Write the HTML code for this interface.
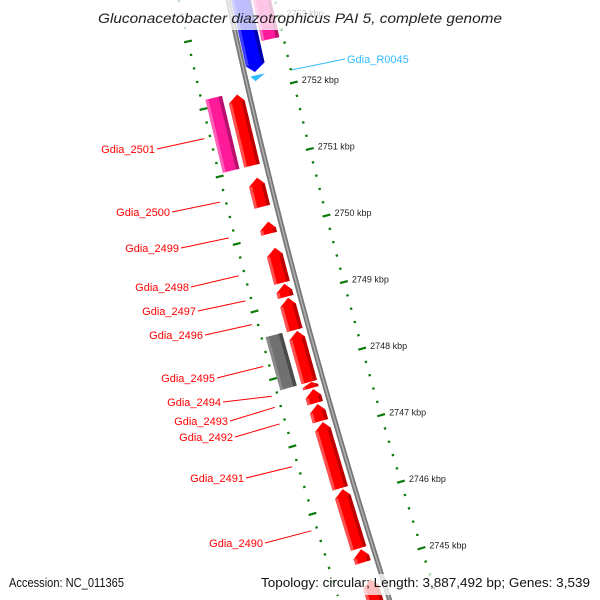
<!DOCTYPE html>
<html><head><meta charset="utf-8"><style>
html,body{margin:0;padding:0;background:#fff;overflow:hidden;width:600px;height:600px;}
svg{display:block;}
</style></head><body>
<svg id="map" width="600" height="600" viewBox="0 0 600 600" xmlns="http://www.w3.org/2000/svg" font-family="'Liberation Sans', 'DejaVu Sans', sans-serif">
<g id="rings"></g>
<path id="backbone" fill="none" stroke="#777" stroke-width="5"></path>
<path id="backbone2" fill="none" stroke="#b0b0b0" stroke-width="1.5"></path>
<g id="features"></g>
<g id="labels"></g>
<rect x="0" y="0" width="600" height="30" fill="#fff" fill-opacity="0.75"></rect>
<rect x="0" y="574" width="600" height="21" fill="#fff" fill-opacity="0.75"></rect>
<text x="300" y="23" text-anchor="middle" font-size="14" font-style="italic" fill="#222" textLength="404" lengthAdjust="spacingAndGlyphs">Gluconacetobacter diazotrophicus PAI 5, complete genome</text>
<text x="9" y="587" font-size="12.5" fill="#111" textLength="115" lengthAdjust="spacingAndGlyphs">Accession: NC_011365</text>
<text x="590" y="587" text-anchor="end" font-size="12.5" fill="#111" textLength="329" lengthAdjust="spacingAndGlyphs">Topology: circular; Length: 3,887,492 bp; Genes: 3,539</text>
</svg>
<script>
// ---- data ----
const featureNames = ["Gdia_2501","Gdia_2501b","Gdia_2500","Gdia_2499","Gdia_2498","Gdia_2497","Gdia_2496","Gdia_2495","Gdia_2495b","Gdia_2494","Gdia_2493","Gdia_2492","Gdia_2491","Gdia_2490","Gdia_2489","Gdia_2488","Gdia_blue","Gdia_pinkF","Gdia_R0045"];
const featureStart = [2752.104,2752.134,2750.866,2750.209,2749.821,2749.284,2749.075,2748.582,2748.612,2747.821,2747.716,2747.493,2747.224,2746.224,2745.328,2744.881,2753.761,2753.91,2752.313];
const featureEnd   = [2751.030,2751.030,2750.418,2750.015,2749.284,2749.075,2748.582,2747.806,2747.806,2747.716,2747.493,2747.224,2746.224,2745.328,2745.119,2744.284,2752.343,2752.761,2752.209];
const featureType  = ["red","pink","red","red","red","red","red","red","gray","red","red","red","red","red","red","red","blue","pinkF","cyan"];
const labelNames   = ["Gdia_2501","Gdia_2500","Gdia_2499","Gdia_2498","Gdia_2497","Gdia_2496","Gdia_2495","Gdia_2494","Gdia_2493","Gdia_2492","Gdia_2491","Gdia_2490","Gdia_R0045"];
const labelFeature = [1,2,3,4,5,6,8,9,10,11,12,13,18];
const labelX = [155,170,179,189,196,203,215,221,228,233,244,263,347];
const labelY = [153,216,252,291,315,339,382,406,425,441,482,547,63];
const tickMin = 2744.2, tickMax = 2753.8, tickStep = 0.2;

// ---- geometry ----
const NS="http://www.w3.org/2000/svg";
function yOf(k){ return 98 + (2752-k)*67; }
function xb(y){ return 228 + 0.218*y + 8.56e-5*y*y; }
function pt(y,o){ const s=0.218+1.712e-4*y, n=Math.sqrt(1+s*s); return [xb(y)+o/n, y - o*s/n]; }
function mk(tag,attrs,parent){ const e=document.createElementNS(NS,tag); for(const k in attrs) e.setAttribute(k,attrs[k]); parent.appendChild(e); return e; }
function poly(pts){ return pts.map(p=>p[0].toFixed(2)+","+p[1].toFixed(2)).join(" "); }

let d="";
for(let y=-20;y<=620;y+=10){ const p=pt(y,0); d+=(y===-20?"M":"L")+p[0].toFixed(2)+" "+p[1].toFixed(2)+" "; }
document.getElementById("backbone").setAttribute("d",d);
document.getElementById("backbone2").setAttribute("d",d);

const rings=document.getElementById("rings");
const nT=Math.round((tickMax-tickMin)/tickStep);
for(let i=0;i<=nT;i++){
  const k=tickMin+i*tickStep; const y=yOf(k);
  const major=Math.abs(k-Math.round(k))<1e-6;
  [[46,-5],[-48,0]].forEach(([o,dy])=>{
    const a=pt(y+dy,o-(major?4:1.2)), b=pt(y+dy,o+(major?4:1.2));
    const l=mk("line",{x1:a[0],y1:a[1],x2:b[0],y2:b[1],stroke:"#0a7a0a","stroke-width":2.2,"stroke-linecap":"butt"},rings);
    
    
  });
  if(major){
    const p=pt(y-5,46);
    const t=mk("text",{x:p[0]+8,y:p[1]+0.5,"font-size":"9",fill:"#222"},rings);
    t.textContent=Math.round(k)+" kbp";
    
    
  }
}

const tracks={red:[-22,-6,"#ff0000","#c00000","#ff5050",-1],pink:[-44,-27,"#ff1a9a","#b8106c","#ff60b8",0],gray:[-44,-27,"#707070","#4a4a4a","#8a8a8a",0],
  blue:[3,22,"#0000ff","#0000aa","#4040ff",1],pinkF:[24,42,"#ff1a9a","#b8106c","#ff60b8",0],cyan:[5,20,"#33bbff","#1a88cc","#66ccff",1]};
const feats=document.getElementById("features");
const fpos=[];
for(let i=0;i<featureNames.length;i++){
  const tr=tracks[featureType[i]];
  const y1=yOf(featureStart[i])+0.7, y2=yOf(featureEnd[i])-0.7;
  const [oi,oo]=[tr[0],tr[1]]; const dir=tr[5];
  const g=mk("g",{},feats);
  
  
  let shape;
  const h=Math.min(7,(y2-y1)*0.6), mid=(oi+oo)/2;
  if(featureType[i]==="cyan"){
    shape=[pt(y1,oi),pt(y1,oo),pt(y2,oi+4)];
  } else if(dir===-1){
    shape=[pt(y1,mid+2),pt(y1+h,oo),pt(y2,oo),pt(y2,oi),pt(y1+h,oi)];
  } else if(dir===1){
    shape=[pt(y1,oi),pt(y1,oo),pt(y2-h,oo),pt(y2,mid-2),pt(y2-h,oi)];
  } else {
    shape=[pt(y1,oi),pt(y1,oo),pt(y2,oo),pt(y2,oi)];
  }
  mk("polygon",{points:poly(shape),fill:tr[2]},g);
  const a=Math.min(oi,oo), b=Math.max(oi,oo);
  const ys=dir===-1?y1+h:y1, ye=dir===1?y2-h:y2;
  if(featureType[i]!=="cyan"){
    mk("polygon",{points:poly([pt(ys,b-3.5),pt(ys,b),pt(ye,b),pt(ye,b-3.5)]),fill:tr[3]},g);
    mk("polygon",{points:poly([pt(ys,a),pt(ys,a+3),pt(ye,a+3),pt(ye,a)]),fill:tr[4]},g);
  }
  fpos.push([(y1+y2)/2, tr]);
}

const labs=document.getElementById("labels");
for(let j=0;j<labelNames.length;j++){
  const f=labelFeature[j]; const ym=fpos[f][0];
  const cyan=featureType[f]==="cyan";
  const col=cyan?"#33bbff":"#ff0000";
  let end, tx;
  if(cyan){ end=pt(ym,47); const ln=mk("line",{x1:end[0],y1:end[1],x2:labelX[j]-2,y2:labelY[j]-4,stroke:col,"stroke-width":1},labs);
    
    
    tx=mk("text",{x:labelX[j],y:labelY[j],"font-size":"11",fill:col},labs);
  } else { end=pt(ym,-54); const ln=mk("line",{x1:labelX[j]+2,y1:labelY[j]-4,x2:end[0],y2:end[1],stroke:col,"stroke-width":1},labs);
    
    
    tx=mk("text",{x:labelX[j],y:labelY[j],"font-size":"11",fill:col,"text-anchor":"end"},labs);
  }
  tx.textContent=labelNames[j];
  
  
}
</script>
</body></html>
